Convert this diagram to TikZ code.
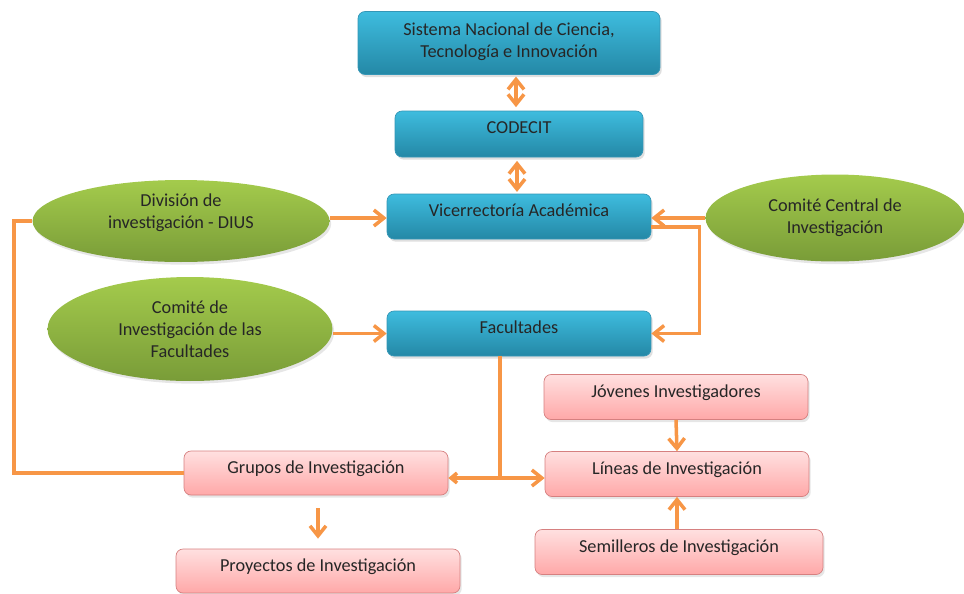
\documentclass[tikz,border=0pt]{standalone}
\usepackage{fontspec}
\setmainfont{Carlito}
\usetikzlibrary{arrows.meta,shadows,shapes.geometric}
\definecolor{bluetop}{RGB}{62,188,222}
\definecolor{bluebot}{RGB}{36,136,166}
\definecolor{blueline}{RGB}{52,150,182}
\definecolor{greentop}{RGB}{164,203,76}
\definecolor{greenbot}{RGB}{121,156,56}
\definecolor{pinktop}{RGB}{255,224,224}
\definecolor{pinkbot}{RGB}{255,168,168}
\definecolor{pinkline}{RGB}{214,128,128}
\definecolor{arrowc}{RGB}{247,150,70}
\begin{document}
\begin{tikzpicture}[x=0.02cm, y=-0.02cm,
    font=\fontsize{10.4}{12.5}\selectfont, text=black!85,
    bluebox/.style={rectangle, rounded corners=4pt, draw=blueline, top color=bluetop,
      bottom color=bluebot, align=center, inner sep=2pt, text depth=7pt,
      drop shadow={opacity=0.25, shadow xshift=1pt, shadow yshift=-1.5pt}},
    pinkbox/.style={rectangle, rounded corners=4pt, draw=pinkline, top color=pinktop,
      bottom color=pinkbot, align=center, inner sep=2pt, minimum height=0.9cm, text depth=7pt,
      drop shadow={opacity=0.2, shadow xshift=1pt, shadow yshift=-1.5pt}},
    oval/.style={ellipse, draw=none, top color=greentop, bottom color=greenbot,
      align=center, inner sep=0pt,
      drop shadow={opacity=0.2, shadow xshift=1pt, shadow yshift=-1.5pt}},
    conn/.style={draw=arrowc, line width=2pt, arrows={-Straight Barb[length=2mm, width=3.2mm]}},
    both/.style={conn, arrows={Straight Barb[length=2mm, width=3.2mm]-Straight Barb[length=2mm, width=3.2mm]}},
    link/.style={draw=arrowc, line width=2pt}]
  \useasboundingbox (0,0) rectangle (964,593);
  % upper chain
  \node[bluebox, text depth=3pt, minimum width=6.04cm, minimum height=1.26cm] (sis) at (509,43)
    {Sistema Nacional de Ciencia,\\Tecnología e Innovación};
  \node[bluebox, minimum width=4.96cm, minimum height=0.92cm] (cod) at (519,134) {CODECIT};
  \node[bluebox, minimum width=5.28cm, minimum height=0.9cm] (vic) at (519,216.5) {Vicerrectoría Académica};
  \node[bluebox, minimum width=5.28cm, minimum height=0.9cm] (fac) at (519,333.5) {Facultades};

  % ellipses
  \node[oval, text depth=11pt, minimum width=5.94cm, minimum height=1.64cm] (div) at (181,221)
    {División de\\investigación - DIUS};
  \node[oval, minimum width=5.70cm, minimum height=2.08cm] (cfa) at (190,329)
    {Comité de\\Investigación de las\\Facultades};
  \node[oval, minimum width=5.18cm, minimum height=1.74cm] (ccn) at (835,218)
    {Comité Central de\\Investigación};

  % lower boxes
  \node[pinkbox, minimum width=5.28cm] (jov) at (676,397) {Jóvenes Investigadores};
  \node[pinkbox, minimum width=5.28cm] (lin) at (677,474) {Líneas de Investigación};
  \node[pinkbox, minimum width=5.76cm] (sem) at (679,552) {Semilleros de Investigación};
  \node[pinkbox, minimum width=5.28cm, minimum height=0.88cm] (gru) at (316,473) {Grupos de Investigación};
  \node[pinkbox, minimum width=5.68cm, minimum height=0.88cm] (pro) at (318,571) {Proyectos de Investigación};

  \coordinate (split) at (500,478);

  \draw[both, shorten <=1pt, shorten >=2pt] (sis.south -| 516,0) -- (cod.north -| 516,0);
  \draw[both, shorten <=2pt, shorten >=1pt] (cod.south -| 517,0) -- (vic.north -| 517,0);
  \draw[conn] (div.east |- 0,218) -- (vic.west |- 0,218);
  \draw[conn] (ccn.west) -- (ccn.west -| vic.east);
  \draw[conn] (fac.west -| cfa.east) -- (fac.west);
  \draw[conn] ([yshift=-6pt]vic.east) -- ++(48,0) |- (fac.east);
  \draw[link] (div.west) -- ++(-18,0) |- (gru.west);
  \draw[link] (fac.south -| split) -- (split);
  \draw[conn, arrows={-Straight Barb[length=1.2mm, width=2mm]}] (split) -- (split -| gru.east);
  \draw[conn] (split) -- (split -| lin.west);
  \draw[conn] (jov.south) -- (lin.north);
  \draw[conn] (sem.north -| lin.north) -- (lin.south);
  \draw[conn] ([yshift=-0.26cm]gru.south -| pro.north) -- ([yshift=0.2cm]pro.north);
\end{tikzpicture}
\end{document}
